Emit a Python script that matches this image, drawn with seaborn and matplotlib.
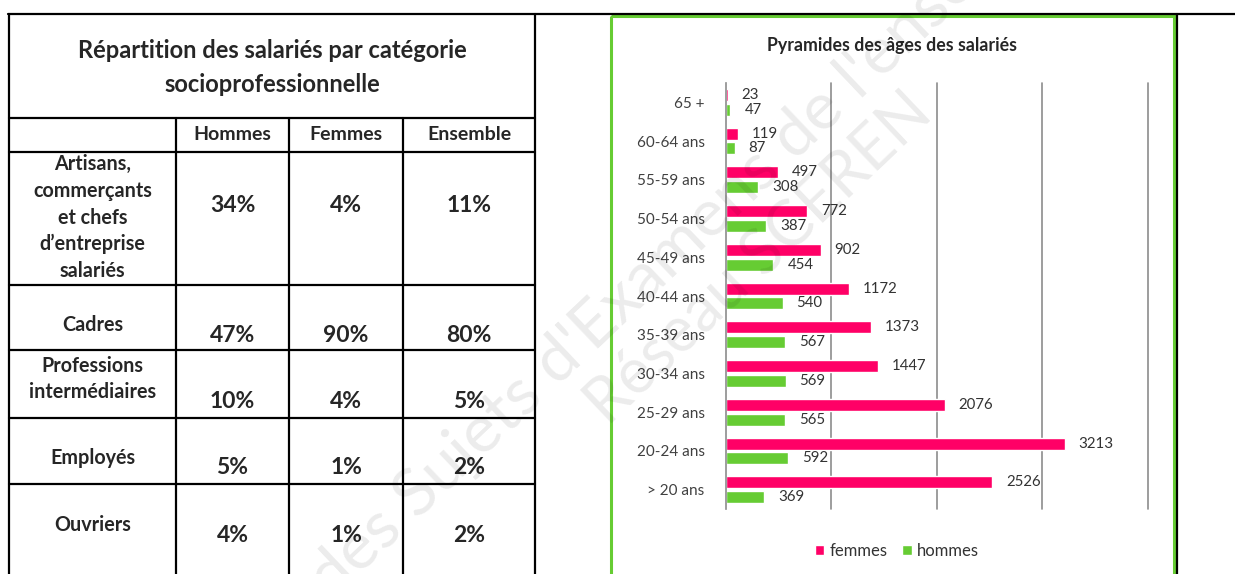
import math
import matplotlib
matplotlib.use("Agg")
import matplotlib.pyplot as plt
import seaborn as sns
import pandas as pd
from matplotlib.patches import Rectangle

# ---------------- data ----------------
table_title = ["Répartition des salariés par catégorie", "socioprofessionnelle"]
col_headers = ["Hommes", "Femmes", "Ensemble"]
csp_categories = ["Artisans,\ncommerçants\net chefs\nd’entreprise\nsalariés",
                  "Cadres", "Professions\nintermédiaires", "Employés", "Ouvriers"]
pct_hommes = [34, 47, 10, 5, 4]
pct_femmes = [4, 90, 4, 1, 1]
pct_ensemble = [11, 80, 5, 2, 2]

chart_title = "Pyramides des âges des salariés"
age_groups = ["65 +", "60-64 ans", "55-59 ans", "50-54 ans", "45-49 ans", "40-44 ans",
              "35-39 ans", "30-34 ans", "25-29 ans", "20-24 ans", "> 20 ans"]
femmes = [23, 119, 497, 772, 902, 1172, 1373, 1447, 2076, 3213, 2526]
hommes = [47, 87, 308, 387, 454, 540, 567, 569, 565, 592, 369]
series_names = ["femmes", "hommes"]
series_colors = {"femmes": "#FF0066", "hommes": "#66CC33"}

watermark = ["Base Nationale des Sujets d'Examens de l'enseignement professionnel",
             "Réseau SCEREN"]

# ---------------- style ----------------
sns.set_style("white")
plt.rcParams["font.family"] = ["Lato", "DejaVu Sans"]

W, H = 1235, 574
fig = plt.figure(figsize=(W / 100, H / 100), dpi=100)

# overlay axes in pixel coordinates for the document layout
ax0 = fig.add_axes([0, 0, 1, 1])
ax0.set_xlim(0, W)
ax0.set_ylim(H, 0)
ax0.axis("off")

lw = 1.6
k = "black"
ax0.plot([8, W], [14, 14], color=k, lw=lw)
for x in (9, 535, 1177):
    ax0.plot([x, x], [14, H], color=k, lw=lw)
for y in (118, 152, 285, 350, 418, 484):
    ax0.plot([9, 535], [y, y], color=k, lw=lw)
for x in (176, 289, 403):
    ax0.plot([x, x], [118, H], color=k, lw=lw)

# table text
for yy, line in zip((50, 84), table_title):
    ax0.text(272, yy, line, ha="center", va="center", fontsize=17, fontweight="bold")
col_x = [232.5, 346, 469]
for cx, h in zip(col_x, col_headers):
    ax0.text(cx, 134, h, ha="center", va="center", fontsize=14, fontweight="bold")

label_cy = [217.5, 325, 379, 458, 525]
value_cy = [205, 335, 402, 468, 535]
for i, cat in enumerate(csp_categories):
    lines = cat.split("\n")
    n = len(lines)
    for j, line in enumerate(lines):
        yy = label_cy[i] + (j - (n - 1) / 2) * 26.8
        ax0.text(92.5, yy, line, ha="center", va="center", fontsize=14.2, fontweight="bold")
    for cx, vals in zip(col_x, (pct_hommes, pct_femmes, pct_ensemble)):
        ax0.text(cx, value_cy[i], f"{vals[i]}%", ha="center", va="center",
                 fontsize=16.5, fontweight="bold")

# green chart frame
ax0.add_patch(Rectangle((611, 16), 1174 - 611, 620 - 16, fill=False,
                        ec="#66CC33", lw=2.2, clip_on=True))
ax0.text(892, 45, chart_title, ha="center", va="center", fontsize=12.8,
         fontweight="bold", color="#262626")

# ---------------- bar chart ----------------
ax = fig.add_axes([725.5 / W, 1 - 509 / H, 422.5 / W, 426 / H])
df = pd.DataFrame({
    "age": age_groups * 2,
    "effectif": femmes + hommes,
    "sexe": [series_names[0]] * len(femmes) + [series_names[1]] * len(hommes),
})
sns.barplot(data=df, y="age", x="effectif", hue="sexe", order=age_groups,
            hue_order=series_names, palette=series_colors, orient="h",
            width=0.76, gap=0.18, saturation=1, legend=False, ax=ax)
ax.set_xlim(0, 4000)
ax.set_xticks([1000, 2000, 3000, 4000])
ax.set_xticklabels([])
ax.xaxis.grid(True, color="#8c8c8c", lw=1.2)
for gl in ax.get_xgridlines():
    gl.set_clip_on(False)
ax.set_axisbelow(True)
for s in ("top", "right", "bottom"):
    ax.spines[s].set_visible(False)
ax.spines["left"].set_color("#8c8c8c")
ax.spines["left"].set_linewidth(1.2)
ax.tick_params(axis="both", length=0)
ax.tick_params(axis="y", pad=15, labelsize=11, labelcolor="#404040")
ax.set_xlabel("")
ax.set_ylabel("")
ax.patch.set_alpha(0)
for c in ax.containers:
    ax.bar_label(c, padding=10, fontsize=10.8, color="#333333")

handles = [Rectangle((0, 0), 1, 1, fc=series_colors[n]) for n in series_names]
fig.legend(handles, series_names, loc="center", bbox_to_anchor=(897 / W, 1 - 551 / H),
           ncol=2, frameon=False, fontsize=12, handlelength=0.55, handleheight=0.55,
           handletextpad=0.3, columnspacing=0.9, labelcolor="#333333")

# ---------------- faint watermark (placed by measuring text widths) ----------------
fig.canvas.draw()
renderer = fig.canvas.get_renderer()


def text_width(s, size):
    t = fig.text(0, 0, s, fontsize=size)
    w = t.get_window_extent(renderer).width
    t.remove()
    return w


ang = 43.5
ca, sa = math.cos(math.radians(ang)), math.sin(math.radians(ang))
wm_kw = dict(rotation=ang, rotation_mode="anchor", ha="left", va="baseline",
             color="black", alpha=0.08, zorder=20)

# line 1: "S" of "Sujets" starts near (417, 520) px, span to "l'en" about 712 px
line1 = watermark[0]
i_s = line1.index("Sujets")
i_e = line1.index("l'ens") + 4
size1 = 10 * 712 / text_width(line1[i_s:i_e], 10)
wp = text_width(line1[:i_s], size1)
px, py = 417 - wp * ca, (H - 520) - wp * sa
fig.text(px / W, py / H, line1, fontsize=size1, **wm_kw)

# line 2: "Réseau SCEREN" from about (608, 427) px, about 448 px long
line2 = watermark[1]
size2 = 10 * 448 / text_width(line2, 10)
fig.text(608 / W, (H - 427) / H, line2, fontsize=size2, **wm_kw)

fig.savefig("out.png", dpi=100)
